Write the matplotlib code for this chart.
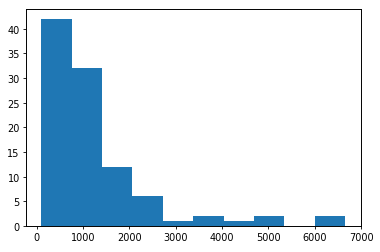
import numpy as np
import matplotlib
matplotlib.use("Agg")
import matplotlib.pyplot as plt

# histogram counts (10 bins)
counts = [42, 32, 12, 6, 1, 2, 1, 2, 0, 2]
data_min = 97
data_max = 6660
xticks = [0, 1000, 2000, 3000, 4000, 5000, 6000, 7000]
yticks = [0, 5, 10, 15, 20, 25, 30, 35, 40]

edges = np.linspace(data_min, data_max, len(counts) + 1)

fig = plt.figure(figsize=(3.8, 2.53), dpi=100)
ax = fig.add_axes([26 / 380, 1 - 227 / 253, (361 - 26) / 380, (227 - 9.6) / 253])
ax.hist(edges[:-1], bins=edges, weights=counts, color="#1f77b4")

ax.set_xticks(xticks)
ax.set_yticks(yticks)
ax.tick_params(labelsize=7, length=2.5, width=0.6, pad=2)
for s in ax.spines.values():
    s.set_linewidth(0.7)

plt.savefig("out.png", dpi=100)
